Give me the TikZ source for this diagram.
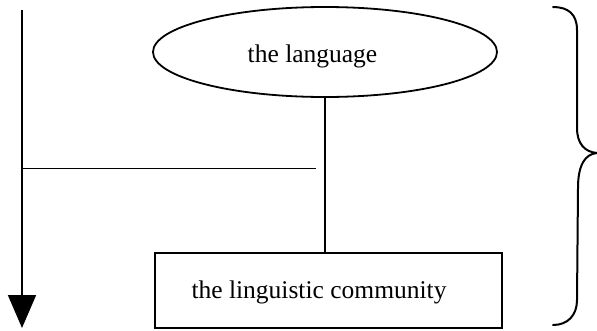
\documentclass[tikz,border=0pt]{standalone}
\usepackage{fontspec}
\setmainfont{Liberation Serif}
\usetikzlibrary{shapes.geometric,arrows.meta}
\begin{document}
\begin{tikzpicture}[x=1pt,y=-1pt,
  txt/.style={font=\fontsize{25.5}{30}\selectfont, inner sep=0pt},
  oval/.style={ellipse, draw, line width=1.8pt, minimum width=344pt, minimum height=90pt, inner sep=0pt},
  frame/.style={rectangle, draw, line width=1.8pt, minimum width=347pt, minimum height=75pt, inner sep=0pt},
  link/.style={line width=1.5pt},
  thin/.style={line width=0.8pt},
  timeline/.style={line width=1.8pt, -{Triangle[length=33pt,width=28pt]}}]
  \useasboundingbox (0,0) rectangle (597,330);

  % the two entities
  \node[oval] (lang) at (325,52) {};
  \node[txt, anchor=base] (langtxt) at (312.5,62) {the language};
  \node[frame] (comm) at (328.5,290.5) {};
  \node[txt, anchor=base] (commtxt) at (319,298) {the linguistic community};

  % connector between them
  \draw[link] (lang.south) -- (lang.south |- comm.north);

  % time axis with a branch
  \coordinate (top) at (22,10);
  \coordinate (bot) at (22,328);
  \coordinate (branch) at (22,168);
  \coordinate (branchend) at (316,168);
  \draw[timeline] (top) -- (bot);
  \draw[thin] (branch) -- (branchend);

  % right-hand brace
  \coordinate (bt) at (553,7);
  \coordinate (tip) at (597,153);
  \coordinate (bb) at (553,325);
  \draw[line width=2pt, line cap=round]
    (bt) .. controls (568,7) and (577,14) .. (577,30)
    -- (577,128) .. controls (577,144) and (585,152) .. (tip)
    .. controls (585,154) and (578,165) .. (578,188)
    -- (577,300) .. controls (577,315) and (568,325) .. (bb);
\end{tikzpicture}
\end{document}
